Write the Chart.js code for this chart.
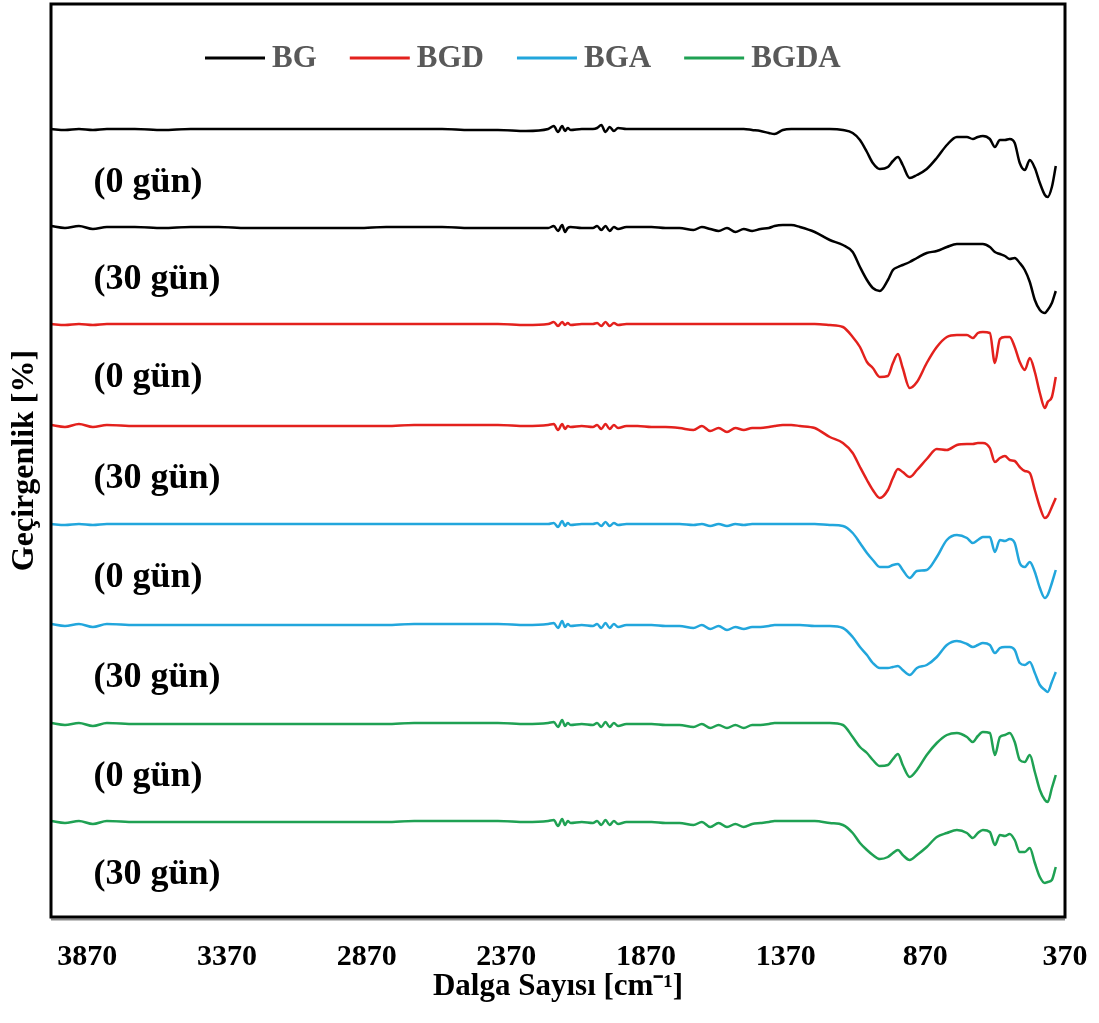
<!DOCTYPE html>
<html lang="tr">
<head>
<meta charset="utf-8">
<title>FTIR - Geçirgenlik</title>
<script src="https://cdn.jsdelivr.net/npm/chart.js@4.4.0/dist/chart.umd.min.js"></script>
<style>
  html, body { margin: 0; padding: 0; background: #ffffff; }
  #grafik { display: block; }
</style>
</head>
<body>
<canvas id="grafik" width="1099" height="1023"></canvas>
<script>
// Dalga sayısı (cm-1) - eksen ters: 4000 solda, 400 sağda
const dalgaSayisi = [
  4000, 3950, 3900, 3850, 3800, 3700, 3600, 3500, 3400, 3300,
  3200, 3100, 3000, 2900, 2800, 2700, 2600, 2500, 2400, 2300,
  2220, 2200, 2185, 2170, 2160, 2150, 2140, 2100, 2060, 2045,
  2030, 2015, 2000, 1985, 1970, 1940, 1900, 1850, 1800, 1750,
  1700, 1670, 1640, 1610, 1580, 1550, 1520, 1490, 1460, 1430,
  1410, 1380, 1350,
  1319, 1266, 1212, 1165, 1130, 1104, 1079, 1058, 1033, 1004,
  986, 968, 951, 926, 900, 865, 829, 793, 757, 721,
  700, 682, 664, 639, 621, 603, 585, 568, 550, 532,
  514, 496, 478, 460, 442, 432, 417, 403
];

const xTikleri = [370, 870, 1370, 1870, 2370, 2870, 3370, 3870];

const numuneAdlari = ['BG', 'BG', 'BGD', 'BGD', 'BGA', 'BGA', 'BGDA', 'BGDA'];
const gunEtiketleri = ['(0 gün)', '(30 gün)', '(0 gün)', '(30 gün)', '(0 gün)', '(30 gün)', '(0 gün)', '(30 gün)'];

// Geçirgenlik (kaydırılmış, keyfi birim)
const bg0 = [
  78.8, 78.7, 78.8, 78.7, 78.8, 78.8, 78.7, 78.8, 78.8, 78.8,
  78.8, 78.8, 78.8, 78.8, 78.8, 78.8, 78.8, 78.7, 78.7, 78.6,
  78.8, 79.1, 78.5, 79.1, 78.6, 78.9, 78.7, 78.8, 78.8, 78.9,
  79.2, 78.5, 79.0, 78.6, 78.9, 78.8, 78.8, 78.8, 78.8, 78.8,
  78.8, 78.8, 78.8, 78.8, 78.8, 78.8, 78.8, 78.7, 78.6, 78.4,
  78.3, 78.7, 78.8,
  78.8, 78.8, 78.8, 78.7, 78.4, 77.7, 76.5, 75.4, 74.8, 75.0,
  75.6, 76.0, 75.2, 73.9, 74.2, 74.8, 75.9, 77.2, 78.0, 78.0,
  77.8, 78.0, 78.1, 77.8, 77.0, 77.7, 77.7, 77.8, 77.4, 75.4,
  74.7, 75.7, 74.9, 73.4, 72.2, 72.0, 73.0, 75.1
];
const bg30 = [
  69.1, 68.9, 69.1, 68.8, 69.0, 69.0, 68.9, 69.0, 69.0, 68.9,
  68.9, 68.9, 68.9, 68.9, 69.0, 69.0, 69.0, 68.9, 68.9, 68.9,
  68.9, 69.1, 68.6, 69.2, 68.5, 68.9, 69.0, 68.9, 68.9, 69.1,
  68.7, 69.1, 68.6, 69.0, 68.8, 69.0, 69.0, 69.0, 68.9, 68.9,
  68.7, 69.0, 68.8, 68.6, 68.9, 68.5, 68.8, 68.6, 68.8, 68.9,
  69.1, 69.2, 69.2,
  69.0, 68.5, 67.7, 67.2, 66.5, 65.0, 63.7, 62.9, 62.6, 63.7,
  64.7, 65.0, 65.2, 65.5, 65.9, 66.4, 66.6, 67.0, 67.3, 67.3,
  67.3, 67.3, 67.3, 67.0, 66.5, 66.3, 66.1, 65.8, 65.9, 65.4,
  64.7, 63.5, 61.7, 60.7, 60.4, 60.7, 61.4, 62.6
];
const bgd0 = [
  59.3, 59.2, 59.3, 59.2, 59.3, 59.3, 59.3, 59.3, 59.3, 59.3,
  59.3, 59.3, 59.3, 59.3, 59.3, 59.3, 59.3, 59.3, 59.3, 59.2,
  59.3, 59.5, 59.1, 59.5, 59.2, 59.4, 59.2, 59.3, 59.3, 59.4,
  59.1, 59.5, 59.1, 59.4, 59.2, 59.3, 59.3, 59.3, 59.3, 59.3,
  59.3, 59.3, 59.3, 59.3, 59.3, 59.3, 59.3, 59.3, 59.3, 59.3,
  59.3, 59.3, 59.3,
  59.3, 59.3, 59.2, 59.0, 58.0, 57.0, 55.5, 54.9, 54.0, 54.1,
  55.4, 56.3, 54.9, 52.9, 53.5, 55.4, 57.0, 58.0, 58.2, 58.2,
  57.9, 58.4, 58.5, 58.4, 55.4, 57.8, 58.0, 58.0, 57.0, 55.5,
  54.7, 55.9, 54.5, 52.4, 50.9, 51.5, 52.0, 54.0
];
const bgd30 = [
  49.2, 49.0, 49.3, 49.0, 49.2, 49.1, 49.1, 49.1, 49.1, 49.1,
  49.1, 49.1, 49.1, 49.1, 49.1, 49.2, 49.2, 49.2, 49.2, 49.1,
  49.2, 49.3, 48.7, 49.3, 48.8, 49.1, 49.0, 49.1, 49.0, 49.2,
  48.8, 49.3, 48.8, 49.2, 48.9, 49.1, 49.1, 49.0, 49.0, 48.9,
  48.7, 49.1, 48.6, 48.9, 48.5, 48.9, 48.7, 48.9, 48.9, 49.0,
  49.1, 49.2, 49.2,
  49.1, 48.9, 48.0, 47.4, 46.4, 45.0, 43.7, 42.7, 41.9, 42.7,
  43.9, 44.8, 44.5, 44.0, 44.7, 45.8, 46.8, 46.7, 47.2, 47.3,
  47.3, 47.4, 47.4, 46.9, 45.5, 45.9, 46.1, 45.7, 45.6, 45.0,
  44.6, 44.4, 42.7, 41.0, 39.9, 40.1, 41.0, 41.9
];
const bga0 = [
  39.3, 39.2, 39.3, 39.2, 39.3, 39.3, 39.3, 39.3, 39.3, 39.3,
  39.3, 39.3, 39.3, 39.3, 39.3, 39.3, 39.3, 39.3, 39.3, 39.3,
  39.3, 39.4, 39.0, 39.6, 39.1, 39.4, 39.2, 39.3, 39.3, 39.4,
  39.1, 39.5, 39.1, 39.4, 39.2, 39.3, 39.3, 39.3, 39.3, 39.3,
  39.2, 39.3, 39.1, 39.3, 39.1, 39.3, 39.2, 39.3, 39.3, 39.3,
  39.3, 39.3, 39.3,
  39.3, 39.3, 39.2, 39.1, 38.4, 37.4, 36.4, 35.7, 35.0, 35.0,
  35.2, 35.3, 34.7, 33.9, 34.6, 34.7, 36.0, 37.7, 38.2, 37.9,
  37.4, 37.7, 38.0, 38.0, 36.5, 37.7, 37.6, 37.8, 37.4, 35.4,
  35.0, 35.5, 34.5, 32.9, 31.9, 32.2, 33.4, 34.7
];
const bga30 = [
  29.3, 29.1, 29.3, 29.0, 29.3, 29.2, 29.2, 29.2, 29.2, 29.2,
  29.2, 29.2, 29.2, 29.2, 29.2, 29.3, 29.3, 29.3, 29.3, 29.2,
  29.3, 29.4, 28.9, 29.6, 29.0, 29.3, 29.1, 29.2, 29.1, 29.3,
  28.9, 29.4, 28.9, 29.3, 29.0, 29.2, 29.2, 29.2, 29.1, 29.1,
  28.9, 29.2, 28.8, 29.1, 28.7, 29.0, 28.8, 29.0, 29.0, 29.1,
  29.2, 29.2, 29.2,
  29.2, 29.1, 29.1, 28.9, 28.0, 27.0, 26.2, 25.4, 24.9, 24.9,
  25.0, 25.1, 24.7, 24.2, 24.9, 25.2, 26.0, 27.2, 27.6, 27.3,
  27.0, 27.2, 27.4, 27.2, 26.4, 26.9, 27.0, 27.0, 26.7, 25.4,
  25.2, 25.5, 24.4, 23.2, 22.7, 22.5, 23.5, 24.5
];
const bgda0 = [
  19.4, 19.2, 19.4, 19.1, 19.4, 19.3, 19.3, 19.3, 19.3, 19.3,
  19.3, 19.3, 19.3, 19.3, 19.3, 19.4, 19.4, 19.4, 19.4, 19.3,
  19.4, 19.5, 19.0, 19.7, 19.1, 19.4, 19.2, 19.3, 19.2, 19.4,
  19.0, 19.5, 19.0, 19.4, 19.1, 19.3, 19.3, 19.3, 19.2, 19.2,
  19.0, 19.3, 18.9, 19.2, 18.9, 19.2, 18.9, 19.2, 19.2, 19.3,
  19.4, 19.4, 19.4,
  19.4, 19.4, 19.4, 19.2, 18.0, 17.0, 16.4, 15.7, 15.1, 15.2,
  15.8, 16.3, 15.2, 14.0, 14.7, 16.2, 17.4, 18.2, 18.4, 18.0,
  17.5, 18.1, 18.5, 18.4, 16.2, 18.0, 18.2, 18.4, 17.5, 15.7,
  15.5, 16.2, 14.5, 12.7, 11.7, 11.5, 12.9, 14.2
];
const bgda30 = [
  9.6, 9.4, 9.6, 9.3, 9.6, 9.5, 9.5, 9.5, 9.5, 9.5,
  9.5, 9.5, 9.5, 9.5, 9.5, 9.6, 9.6, 9.6, 9.6, 9.5,
  9.6, 9.7, 9.1, 9.8, 9.2, 9.6, 9.4, 9.5, 9.4, 9.6,
  9.2, 9.7, 9.2, 9.6, 9.3, 9.5, 9.5, 9.5, 9.4, 9.4,
  9.2, 9.5, 9.0, 9.4, 9.0, 9.3, 9.0, 9.3, 9.4, 9.5,
  9.6, 9.6, 9.6,
  9.6, 9.6, 9.4, 9.2, 8.4, 7.4, 6.7, 6.2, 5.8, 6.0,
  6.4, 6.7, 6.2, 5.7, 6.2, 7.0, 8.0, 8.4, 8.7, 8.4,
  7.9, 8.4, 8.7, 8.5, 7.2, 8.2, 8.1, 8.3, 7.7, 6.5,
  6.5, 6.9, 5.4, 4.0, 3.4, 3.5, 3.7, 5.0
];

const seriler = [bg0, bg30, bgd0, bgd30, bga0, bga30, bgda0, bgda30];
const renkler = ['#000000', '#000000', '#e3211d', '#e3211d', '#22a6dc', '#22a6dc', '#1fa153', '#1fa153'];

const yaziTipi = "'Liberation Serif', 'Times New Roman', serif";

// Çerçeve: grafik alanının etrafında kalın siyah kutu
const cerceve = {
  id: 'cerceve',
  afterDraw(chart) {
    const { ctx, chartArea } = chart;
    ctx.save();
    ctx.strokeStyle = '#888888';
    ctx.lineWidth = 2;
    ctx.beginPath();
    ctx.moveTo(chartArea.left, chartArea.bottom + 2.5);
    ctx.lineTo(chartArea.right, chartArea.bottom + 2.5);
    ctx.stroke();
    ctx.strokeStyle = '#000000';
    ctx.lineWidth = 3;
    ctx.strokeRect(chartArea.left, chartArea.top, chartArea.right - chartArea.left, chartArea.bottom - chartArea.top);
    ctx.restore();
  }
};

// Lejant grafik alanının içinde, üstte (her numuneden bir tane)
const icLejant = {
  id: 'icLejant',
  afterDraw(chart) {
    const { ctx, chartArea } = chart;
    const y = chartArea.top + 54;
    let x = chartArea.left + 154;
    ctx.save();
    ctx.font = 'bold 31px ' + yaziTipi;
    ctx.textAlign = 'left';
    ctx.textBaseline = 'middle';
    chart.data.datasets.forEach((ds, i) => {
      if (i % 2 !== 0) return;
      ctx.strokeStyle = ds.borderColor;
      ctx.lineWidth = 3;
      ctx.beginPath();
      ctx.moveTo(x, y);
      ctx.lineTo(x + 60, y);
      ctx.stroke();
      x += 67;
      ctx.fillStyle = '#595959';
      ctx.fillText(ds.label, x, y + 1);
      x += ctx.measureText(ds.label).width + 33;
    });
    ctx.restore();
  }
};

// "(0 gün)" / "(30 gün)" yazıları, her eğrinin altına
const gunYazilari = {
  id: 'gunYazilari',
  afterDatasetsDraw(chart) {
    const { ctx, scales } = chart;
    ctx.save();
    ctx.font = 'bold 36px ' + yaziTipi;
    ctx.fillStyle = '#000000';
    ctx.textAlign = 'left';
    ctx.textBaseline = 'middle';
    seriler.forEach((seri, i) => {
      const x = scales.x.getPixelForValue(3848);
      const y = scales.y.getPixelForValue(seri[0] - 5.4);
      ctx.fillText(gunEtiketleri[i], x, y);
    });
    ctx.restore();
  }
};

const veriSetleri = seriler.map((seri, i) => ({
  label: numuneAdlari[i],
  data: dalgaSayisi.map((x, j) => ({ x: x, y: seri[j] })),
  borderColor: renkler[i],
  backgroundColor: renkler[i],
  borderWidth: 2.5,
  pointRadius: 0,
  cubicInterpolationMode: 'monotone',
  fill: false
}));

new Chart(document.getElementById('grafik'), {
  type: 'line',
  data: { datasets: veriSetleri },
  options: {
    responsive: false,
    animation: false,
    devicePixelRatio: 1,
    layout: { padding: { top: 4, right: 34, bottom: 0, left: 0 } },
    plugins: {
      tooltip: { enabled: false },
      legend: { display: false }
    },
    scales: {
      x: {
        type: 'linear',
        reverse: true,
        min: 370,
        max: 4000,
        afterBuildTicks: (eksen) => { eksen.ticks = xTikleri.map(v => ({ value: v })); },
        afterFit: (eksen) => { eksen.height = 106; },
        grid: { display: false },
        border: { display: false },
        ticks: {
          padding: 14,
          color: '#000000',
          maxRotation: 0,
          autoSkip: false,
          font: { family: yaziTipi, size: 30, weight: 'bold' },
          callback: (v) => String(v)
        },
        title: {
          display: true,
          text: 'Dalga Sayısı [cm⁻¹]',
          color: '#000000',
          padding: { top: 0, bottom: 17 },
          font: { family: yaziTipi, size: 31, weight: 'bold' }
        }
      },
      y: {
        min: 0,
        max: 91.3,
        afterFit: (eksen) => { eksen.width = 51; },
        grid: { display: false },
        border: { display: false },
        ticks: { display: false },
        title: {
          display: true,
          text: 'Geçirgenlik [%]',
          color: '#000000',
          padding: { top: 6, bottom: 0 },
          font: { family: yaziTipi, size: 32, weight: 'bold' }
        }
      }
    }
  },
  plugins: [cerceve, icLejant, gunYazilari]
});
</script>
</body>
</html>
